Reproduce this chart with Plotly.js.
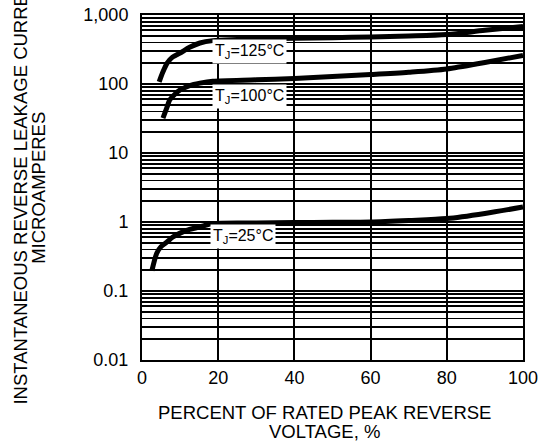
<!DOCTYPE html>
<html>
<head>
<meta charset="utf-8">
<script src="https://cdn.plot.ly/plotly-3.0.1.min.js"></script>
<style>html,body{margin:0;padding:0;background:#fff;}#chart{width:547px;height:444px;}</style>
</head>
<body>
<div id="chart"></div>
<script>
// Series: percent of rated peak reverse voltage vs leakage current (µA)
var x125 = [4.5, 5.5, 6.6, 8, 10, 12.5, 15.2, 18.6, 25, 30, 40, 50, 60, 70, 80, 90, 100];
var y125 = [107, 150, 201, 245, 281, 340, 393, 425, 440, 450, 460, 470, 480, 495, 520, 600, 680];

var x100 = [5.5, 6.5, 7.3, 8.5, 10, 12.5, 15.2, 18.6, 30, 40, 50, 60, 70, 80, 90, 100];
var y100 = [32, 45, 59, 70, 82, 95, 103, 110, 115, 120, 128, 137, 148, 165, 205, 260];

var x25 = [2.6, 3.9, 5, 6.5, 8, 10, 12.5, 15.2, 18.6, 30, 40, 50, 60, 70, 80, 90, 100];
var y25 = [0.197, 0.356, 0.44, 0.51, 0.6, 0.69, 0.78, 0.85, 0.95, 0.97, 0.98, 0.99, 1.0, 1.05, 1.12, 1.33, 1.65];

var xTickVals = [0, 20, 40, 60, 80, 100];
var xTickText = ["0", "20", "40", "60", "80", "100"];
var yTickVals = [0.01, 0.1, 1, 10, 100, 1000];
var yTickText = ["0.01", "0.1", "1", "10", "100", "1,000"];

var labelText = ["T<sub>J</sub>=125°C", "T<sub>J</sub>=100°C", "T<sub>J</sub>=25°C"];
var labelX = [28.3, 28.3, 26.5];
var labelY = [291, 65, 0.61];

var xTitleLines = ["PERCENT OF RATED PEAK REVERSE", "VOLTAGE, %"];
var yTitleLines = ["INSTANTANEOUS REVERSE LEAKAGE CURRENT", "MICROAMPERES"];

// minor gridlines 2..9 per decade
var minorVals = [];
for (var d = -2; d < 3; d++) {
  for (var m = 2; m <= 9; m++) minorVals.push(m * Math.pow(10, d));
}

var FONT = "Liberation Sans, Arial, Helvetica, sans-serif";
var lineStyle = {color: "#000", width: 5, shape: "spline", smoothing: 0.8};

var traces = [
  {x: x125, y: y125, mode: "lines", line: lineStyle, hoverinfo: "none"},
  {x: x100, y: y100, mode: "lines", line: lineStyle, hoverinfo: "none"},
  {x: x25, y: y25, mode: "lines", line: lineStyle, hoverinfo: "none"}
];

var annotations = [];
for (var i = 0; i < labelText.length; i++) {
  annotations.push({
    x: labelX[i], y: Math.log10(labelY[i]), xref: "x", yref: "y",
    text: labelText[i], showarrow: false, bgcolor: "#fff", borderpad: 2,
    font: {family: FONT, size: 16, color: "#000"}
  });
}
var xTitleY = [-0.152, -0.206];
for (var j = 0; j < xTitleLines.length; j++) {
  annotations.push({
    x: 0.48, y: xTitleY[j], xref: "paper", yref: "paper",
    xanchor: "center", yanchor: "middle",
    text: xTitleLines[j], showarrow: false,
    font: {family: FONT, size: 18.5, color: "#000"}
  });
}
var yTitleX = [-0.320, -0.272];
for (var k = 0; k < yTitleLines.length; k++) {
  annotations.push({
    x: yTitleX[k], y: 0.5, xref: "paper", yref: "paper",
    xanchor: "center", yanchor: "middle", textangle: -90,
    text: yTitleLines[k], showarrow: false,
    font: {family: FONT, size: 18.5, color: "#000"}
  });
}

var layout = {
  width: 547, height: 444,
  margin: {l: 142, r: 24, t: 15, b: 84},
  paper_bgcolor: "#fff", plot_bgcolor: "#fff",
  showlegend: false,
  font: {family: FONT, size: 18, color: "#000"},
  xaxis: {
    range: [0, 100], tickmode: "array", tickvals: xTickVals, ticktext: xTickText,
    showgrid: true, gridcolor: "#000", gridwidth: 1.8,
    showline: true, linecolor: "#000", linewidth: 2, mirror: true,
    ticks: "", zeroline: false, tickfont: {family: FONT, size: 18, color: "#000"}
  },
  yaxis: {
    type: "log", range: [-2, 3], tickmode: "array", tickvals: yTickVals, ticktext: yTickText,
    showgrid: true, gridcolor: "#000", gridwidth: 1.8,
    minor: {tickmode: "array", tickvals: minorVals, showgrid: true, gridcolor: "#000", gridwidth: 1.8, ticks: ""},
    showline: true, linecolor: "#000", linewidth: 2, mirror: true,
    ticks: "outside", ticklen: 8, tickcolor: "rgba(0,0,0,0)",
    zeroline: false, tickfont: {family: FONT, size: 18, color: "#000"}
  },
  annotations: annotations
};

Plotly.newPlot("chart", traces, layout, {staticPlot: true, displayModeBar: false});
</script>
</body>
</html>
